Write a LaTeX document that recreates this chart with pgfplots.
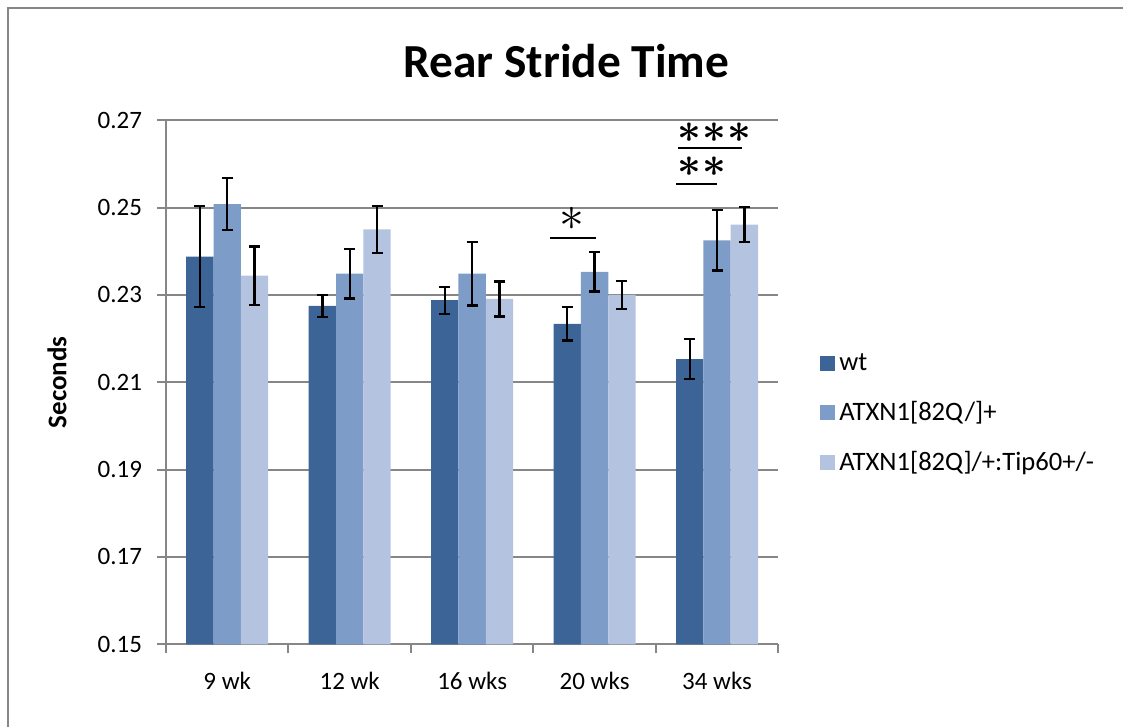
\documentclass[border=0pt]{standalone}
\usepackage{pgfplots}
\pgfplotsset{compat=1.18}
\usepackage{pgfplotstable}
\usepackage{bm}
\usepackage{fontspec}
\setmainfont{Carlito}
\definecolor{cwt}{RGB}{61,100,150}
\definecolor{catx}{RGB}{126,156,200}
\definecolor{ctip}{RGB}{180,195,223}
\definecolor{axgray}{RGB}{134,134,134}
\newcommand{\bst}{\makebox[12.5pt]{$\bm{\ast}$}}

\pgfplotstableread{
x y e
0 0.2388 0.0116
1 0.2275 0.0025
2 0.2288 0.0031
3 0.2234 0.0038
4 0.2153 0.0046
}\wt
\pgfplotstableread{
x y e
0 0.2508 0.0060
1 0.2349 0.0057
2 0.2349 0.0073
3 0.2353 0.0045
4 0.2425 0.0069
}\atx
\pgfplotstableread{
x y e
0 0.2344 0.0067
1 0.2450 0.0054
2 0.2291 0.0040
3 0.2300 0.0032
4 0.2461 0.0040
}\tip

\begin{document}
\begin{tikzpicture}
\path[use as bounding box] (0,0) rectangle (561.5pt,363.5pt);
\draw[axgray, line width=1.1pt] (4pt,0pt) -- (4pt,359.5pt) -- (561.5pt,359.5pt);
\node[font=\fontsize{23.7}{26}\selectfont\bfseries, anchor=base] at (283.25pt,324.5pt) {Rear Stride Time};
\begin{axis}[
  at={(83pt,41.35pt)}, anchor=south west,
  scale only axis, width=306.15pt, height=262pt,
  ybar=0pt, bar width=13.67pt,
  xmin=-0.5, xmax=4.5, ymin=0.15, ymax=0.27,
  xtick={0,1,2,3,4},
  xticklabels={9 wk,12 wk,16 wks,20 wks,34 wks},
  minor xtick={-0.5,0.5,1.5,2.5,3.5,4.5},
  ytick={0.15,0.17,0.19,0.21,0.23,0.25,0.27},
  yticklabels={0.15,0.17,0.19,0.21,0.23,0.25,0.27},
  tick align=outside,
  major tick length=4.5pt, minor tick length=4.5pt,
  major x tick style={draw=none},
  tick style={axgray, line width=1pt},
  axis x line*=bottom, axis y line*=left,
  axis line style={axgray, line width=1pt, -},
  ymajorgrids, grid style={axgray, line width=1pt},
  tick label style={font=\fontsize{12.5}{14}\selectfont},
  xticklabel style={yshift=-6pt},
  yticklabel style={xshift=-4pt},
  ylabel={Seconds},
  every axis y label/.style={at={(axis description cs:-0.178,0.5)}, rotate=90, anchor=center, font=\fontsize{13.5}{15}\selectfont\bfseries},
  legend style={draw=none, fill=none, at={(axis description cs:1.068,0.44)}, anchor=west,
    font=\fontsize{13.3}{15}\selectfont, row sep=9.8pt, inner sep=0pt},
  legend cell align=left,
  error bars/error bar style={line width=1.15pt, black},
  error bars/error mark options={rotate=90, mark size=2.75pt, line width=1.15pt, black},
]
\addplot[fill=cwt, draw=none, error bars/.cd, y dir=both, y explicit,
  /pgfplots/legend image code/.code={\fill[cwt] (0pt,-3.75pt) rectangle (7.5pt,3.75pt);}]
  table[x=x, y=y, y error=e] {\wt};
\addplot[fill=catx, draw=none, error bars/.cd, y dir=both, y explicit,
  /pgfplots/legend image code/.code={\fill[catx] (0pt,-3.75pt) rectangle (7.5pt,3.75pt);}]
  table[x=x, y=y, y error=e] {\atx};
\addplot[fill=ctip, draw=none, error bars/.cd, y dir=both, y explicit,
  /pgfplots/legend image code/.code={\fill[ctip] (0pt,-3.75pt) rectangle (7.5pt,3.75pt);}]
  table[x=x, y=y, y error=e] {\tip};
\legend{wt, ATXN1[82Q/]+, ATXN1[82Q]/+:Tip60+/-}
% significance annotations
\draw[black, line width=1pt] (axis cs:2.636,0.2431) -- (axis cs:3.011,0.2431);
\node[font=\fontsize{27}{27}\selectfont, inner sep=0pt] at (axis cs:2.815,0.2474) {$\ast$};
\draw[black, line width=1pt] (axis cs:3.665,0.2555) -- (axis cs:4.002,0.2555);
\node[font=\fontsize{22}{22}\selectfont, inner sep=0pt] at (axis cs:3.875,0.2594) {\bst\bst};
\draw[black, line width=1pt] (axis cs:3.681,0.2636) -- (axis cs:4.201,0.2636);
\node[font=\fontsize{22}{22}\selectfont, inner sep=0pt] at (axis cs:3.977,0.2672) {\bst\bst\bst};
\end{axis}
\end{tikzpicture}
\end{document}
